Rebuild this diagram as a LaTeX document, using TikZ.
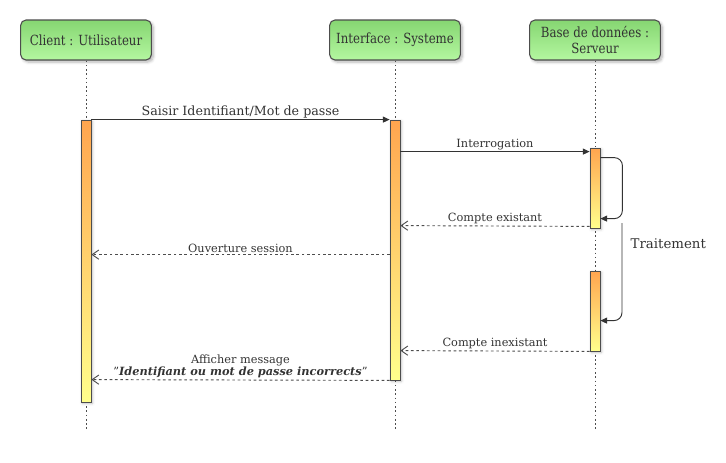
\documentclass[tikz,border=0pt]{standalone}
\usepackage{fontspec}
\setmainfont{DejaVu Serif}
\newfontfamily\hdrfont[FakeStretch=0.84]{DejaVu Serif}
\usetikzlibrary{arrows.meta,shadows.blur,calc}
\definecolor{gtop}{HTML}{86D672}
\definecolor{gbot}{HTML}{B4F7A0}
\definecolor{otop}{HTML}{FFA54F}
\definecolor{obot}{HTML}{FFFF8C}
\definecolor{edge}{HTML}{4D4D4D}
\definecolor{txt}{HTML}{333333}
\tikzset{
  actor/.style={draw=edge, line width=0.8pt, rounded corners=4pt, top color=gtop, bottom color=gbot,
    minimum width=98pt, minimum height=30pt, align=center, font=\hdrfont\fontsize{10.5}{11.5}\selectfont, text=txt,
    blur shadow={shadow xshift=1.5pt, shadow yshift=-1.5pt, shadow blur steps=5, shadow opacity=30}},
  bar/.style={draw=edge, line width=0.6pt, top color=otop, bottom color=obot, minimum width=7.5pt, inner sep=0pt,
    blur shadow={shadow xshift=1pt, shadow yshift=-1pt, shadow blur steps=4, shadow opacity=25}},
  life/.style={draw=edge, line width=0.7pt, dash pattern=on 1.2pt off 2pt},
  msg/.style={draw=black!80, line width=0.7pt, -{Triangle[length=5pt,width=4.5pt]}},
  ret/.style={draw=edge, line width=0.7pt, dash pattern=on 2pt off 2pt, -{Straight Barb[length=5pt,width=7pt]}},
  lbl/.style={font=\fontsize{8.5}{10}\selectfont, text=txt, inner sep=1pt},
}
\begin{document}
\begin{tikzpicture}[x=0.75pt,y=-0.75pt]
\useasboundingbox (0,0) rectangle (726,462);
% actors
\node[actor] (c) at (86,40) {Client : Utilisateur};
\node[actor] (i) at (395,40) {Interface : Systeme};
\node[actor] (b) at (595,40) {Base de données :\\Serveur};
% lifelines
\coordinate (ce) at (86,430);
\coordinate (ie) at (395,430);
\coordinate (be) at (595,430);
\draw[life] (c.south) -- (ce);
\draw[life] (i.south) -- (ie);
\draw[life] (b.south) -- (be);
% activation bars
\node[bar, minimum height=211.5pt] (cb) at (86,261) {};
\node[bar, minimum height=195pt] (ib) at (395,250) {};
\node[bar, minimum height=60pt] (bb1) at (595,188) {};
\node[bar, minimum height=60pt] (bb2) at (595,311) {};
% messages
\draw[msg] (cb.north east) -- node[lbl, above, font=\fontsize{9.5}{11}\selectfont] {Saisir Identifiant/Mot de passe} (ib.north west);
\coordinate (q1) at ($(ib.north east)+(0,32)$);
\coordinate (q2) at ($(bb1.north west)+(0,4)$);
\draw[msg] (q1) -- node[lbl, above] {Interrogation} (q2);
% self loops
\coordinate (s1) at ($(bb1.north east)+(0,10)$);
\coordinate (s2) at ($(bb1.north east)+(0,71)$);
\draw[msg, rounded corners=6pt] (s1) -- ++(22,0) |- (s2);
\coordinate (t1) at (622,223);
\coordinate (t2) at ($(bb2.north east)+(0,50)$);
\draw[msg, rounded corners=6pt] (t1) |- (t2);
\node[font=\fontsize{10}{12}\selectfont, text=txt, anchor=west] (tr) at (626,244) {Traitement};
% returns
\coordinate (r1a) at ($(bb1.south west)+(0,-2)$);
\coordinate (r1b) at ($(ib.north east)+(0,106)$);
\draw[ret] (r1a) -- node[lbl, above] {Compte existant} (r1b);
\draw[ret] ($(ib.north west)+(0,135)$) -- node[lbl, above] {Ouverture session} ($(cb.north east)+(0,135)$);
\draw[ret] (bb2.south west) -- node[lbl, above] {Compte inexistant} ($(ib.north east)+(0,231)$);
\draw[ret] (ib.south west) -- node[lbl, above, align=center] {Afficher message\\[-1pt]\symbol{34}\textbf{\textit{Identifiant ou mot de passe incorrects}}\symbol{34}} ($(cb.north east)+(0,260)$);
\end{tikzpicture}
\end{document}
